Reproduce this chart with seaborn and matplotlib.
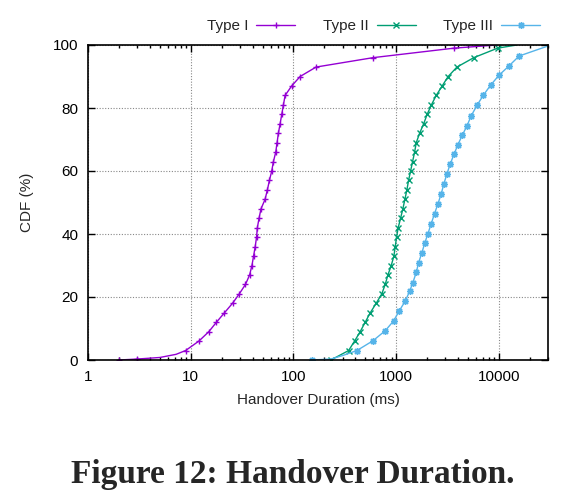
import matplotlib
matplotlib.use("Agg")
import matplotlib.pyplot as plt
from matplotlib.lines import Line2D
from matplotlib.ticker import LogLocator, NullFormatter
import seaborn as sns

# CDF points (ms, %)
type1_x = [2.0, 3.0, 5.0, 7.2, 8.9, 12, 15, 17.8, 21.3, 25.5, 29.7, 34.1, 37.4, 39.4, 40.9,
           42.4, 43.7, 44.5, 46.2, 48.3, 52.9, 55.7, 58.3, 61.4, 63.8, 67.2, 69.2, 71.3,
           74.1, 76.9, 79.8, 82.9, 96, 116, 166, 600, 3650, 9500]
type1_y = [0, 0.3, 0.8, 1.8, 3, 6, 9, 12, 15, 18, 21, 24, 27, 30, 33,
           36, 39, 42, 45, 48, 51, 54, 57, 60, 63, 66, 69, 72,
           75, 78, 81, 84, 87, 90, 93, 96, 99, 100]
type1_marks = [0, 1] + list(range(4, 37))

type2_x = [231, 344, 393, 446, 499, 559, 638, 724, 781, 830, 894, 949, 978, 1007, 1045,
           1102, 1161, 1214, 1270, 1318, 1380, 1443, 1510, 1566, 1690, 1850, 2000, 2200,
           2450, 2800, 3200, 3900, 5700, 9700, 14870]
type2_y = [0, 3, 6, 9, 12, 15, 18, 21, 24, 27, 30, 33, 36, 39, 42,
           45, 48, 51, 54, 57, 60, 63, 66, 69, 72, 75, 78, 81,
           84, 87, 90, 93, 96, 99, 100]
type2_marks = list(range(0, 34))

type3_x = [151, 231, 300, 414, 593, 782, 942, 1070, 1223, 1349, 1453, 1566, 1651, 1779,
           1890, 2034, 2191, 2362, 2547, 2744, 2912, 3116, 3360, 3648, 3990, 4399, 4876,
           5360, 6150, 7060, 8270, 10000, 12550, 15700, 29500]
type3_y = [0, 0.3, 1.4, 3, 6.1, 9.3, 12.4, 15.6, 18.7, 21.8, 24.6, 27.8, 30.9, 34.1,
           37, 40.1, 43.3, 46.5, 49.6, 52.8, 56, 59.1, 62.3, 65.3, 68.4, 71.4, 74.3,
           77.5, 81, 84.1, 87.2, 90.4, 93.4, 96.5, 99.6]
type3_marks = [0] + list(range(3, 34))

series_names = ["Type I", "Type II", "Type III"]
x_ticks = [1, 10, 100, 1000, 10000]
x_ticklabels = ["1", "10", "100", "1000", "10000"]
y_ticks = [0, 20, 40, 60, 80, 100]

sns.set_style("ticks")
plt.rcParams['font.family'] = ['Liberation Sans', 'DejaVu Sans']

fig = plt.figure(figsize=(5.7, 4.96), dpi=100)
ax = fig.add_axes([88 / 570, 1 - 360 / 496, 460 / 570, 315 / 496])

colors = ["#9400d3", "#009e73", "#56b4e9"]
markers = ["+", "x", (8, 2, 0)]
data = [(type1_x, type1_y, type1_marks),
        (type2_x, type2_y, type2_marks),
        (type3_x, type3_y, type3_marks)]

handles = []
for (xs, ys, marks), name, c, m in zip(data, series_names, colors, markers):
    # seaborn makes marker edges white by default, which hides line-art markers
    sns.lineplot(x=xs, y=ys, ax=ax, color=c, lw=1.0, marker=m, markersize=5,
                 markeredgewidth=1.0, markeredgecolor=c, markevery=marks,
                 estimator=None, sort=False)
    handles.append(Line2D([], [], color=c, lw=1.0, marker=m, markersize=5,
                          markeredgewidth=1.0, markeredgecolor=c, label=name))

ax.set_xscale("log")
ax.set_xlim(1, 30000)
ax.set_ylim(0, 100)
ax.set_xticks(x_ticks)
ax.set_xticklabels(x_ticklabels)
ax.xaxis.set_minor_locator(LogLocator(base=10, subs=range(2, 10), numticks=20))
ax.xaxis.set_minor_formatter(NullFormatter())
ax.set_yticks(y_ticks)

ax.grid(True, which="major", color="#888888", linestyle=(0, (1, 1.5)), lw=0.8)
ax.tick_params(which="both", direction="in", top=True, right=True, colors="black",
               labelsize=11, width=1.0)
ax.tick_params(which="major", length=5, pad=7)
ax.tick_params(which="minor", length=2.5)
for s in ax.spines.values():
    s.set_linewidth(1.2)
    s.set_color("black")

ax.set_xlabel("Handover Duration (ms)", fontsize=11)
ax.set_ylabel("CDF (%)", fontsize=11)
ax.xaxis.set_label_coords(0.5, -0.105)
ax.yaxis.set_label_coords(-0.117, 0.5)

fig.legend(handles=handles, loc="center right", bbox_to_anchor=(540 / 570, 1 - 26 / 496),
           ncol=3, frameon=False, markerfirst=False, fontsize=11, borderpad=0,
           borderaxespad=0, handlelength=2.55, handletextpad=0.52, columnspacing=1.8)

fig.text(0.514, 13 / 496, "Figure 12: Handover Duration.", ha="center", va="baseline",
         fontsize=24, fontweight="bold", family=["Liberation Serif", "DejaVu Serif"])

fig.savefig("out.png", dpi=100)
